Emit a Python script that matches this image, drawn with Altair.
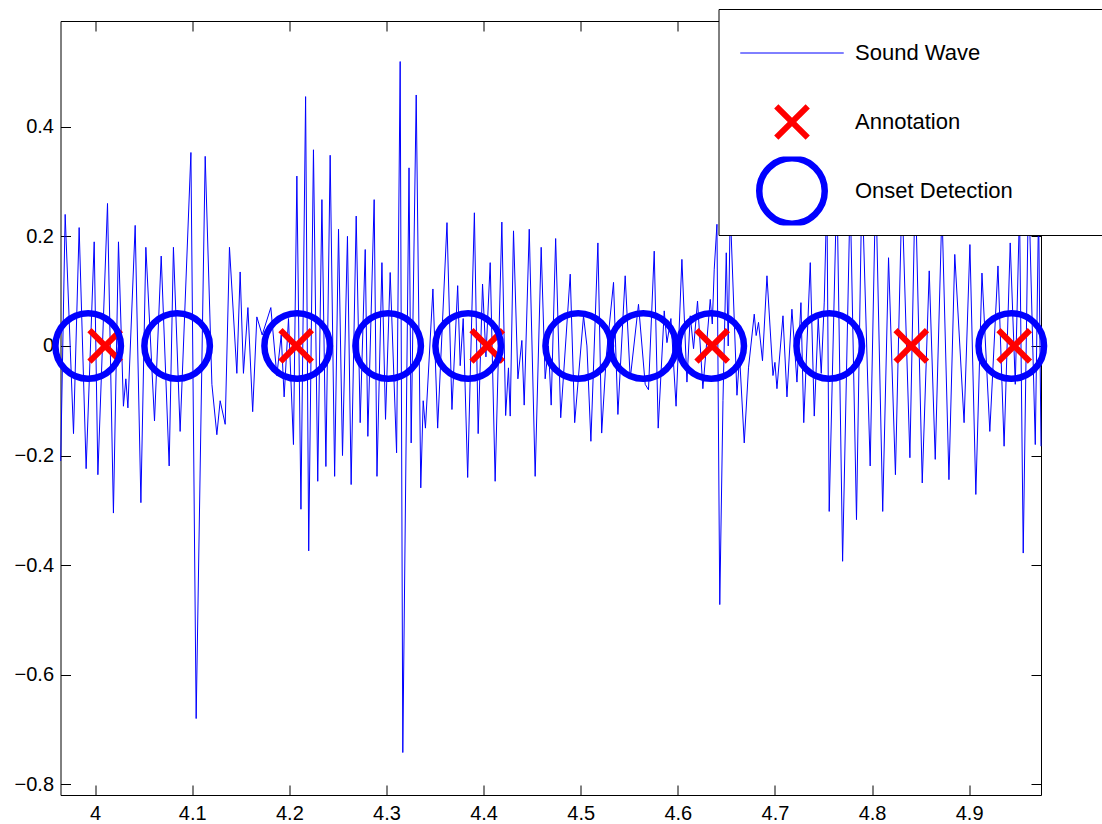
import altair as alt
import pandas as pd

# ---- waveform (time in s, amplitude) ----
wave_t = [
    3.9645, 3.9691, 3.9777, 3.9835, 3.9907, 3.9990, 4.0028, 4.0127, 4.0188, 4.0240,
    4.0291, 4.0316, 4.0337, 4.0412, 4.0471, 4.0522, 4.0611, 4.0680, 4.0762, 4.0806,
    4.0875, 4.0986, 4.1040, 4.1133, 4.1202, 4.1253, 4.1287, 4.1339, 4.1383, 4.1459,
    4.1493, 4.1527, 4.1573, 4.1622,
    4.1665, 4.1720, 4.1809, 4.1871, 4.1916, 4.1946, 4.1991, 4.2042, 4.2077, 4.2119,
    4.2167, 4.2199, 4.2248, 4.2292, 4.2335, 4.2376, 4.2420, 4.2466, 4.2506, 4.2547,
    4.2598, 4.2636, 4.2688, 4.2729, 4.2781, 4.2808, 4.2873, 4.2902, 4.2953, 4.2990,
    4.3038, 4.3104, 4.3141, 4.3168, 4.3232, 4.3254, 4.3306, 4.3353, 4.3378, 4.3401,
    4.3478, 4.3527, 4.3623,
    4.3674, 4.3733, 4.3759, 4.3790, 4.3836, 4.3905, 4.3944, 4.3989, 4.4024, 4.4068,
    4.4119, 4.4188, 4.4227, 4.4256, 4.4274, 4.4308, 4.4353, 4.4394, 4.4418, 4.4470,
    4.4531, 4.4593, 4.4634, 4.4668, 4.4696, 4.4742, 4.4794, 4.4892, 4.4938, 4.5029,
    4.5064, 4.5105, 4.5177, 4.5216, 4.5263, 4.5338, 4.5383, 4.5458, 4.5510, 4.5595,
    4.5664,
    4.5698, 4.5757, 4.5798, 4.5860, 4.5888, 4.5929, 4.5982, 4.6042, 4.6094, 4.6128,
    4.6162, 4.6203, 4.6258, 4.6334, 4.6355, 4.6375, 4.6403, 4.6432, 4.6465, 4.6499,
    4.6519, 4.6540, 4.6609, 4.6636, 4.6684, 4.6728, 4.6787, 4.6807, 4.6831, 4.6872,
    4.6918, 4.6980, 4.7000, 4.7021, 4.7083, 4.7124, 4.7175, 4.7227, 4.7268, 4.7297,
    4.7364, 4.7405, 4.7446, 4.7477, 4.7508, 4.7535, 4.7559,
    4.7638, 4.7697, 4.7775, 4.7840, 4.7896, 4.7981, 4.8038, 4.8110, 4.8170, 4.8241,
    4.8308, 4.8390, 4.8445, 4.8517, 4.8589, 4.8651, 4.8720, 4.8792, 4.8852, 4.8948,
    4.9008, 4.9069, 4.9132, 4.9213, 4.9297, 4.9360, 4.9423, 4.9475, 4.9519, 4.9557,
    4.9612, 4.9681, 4.9715, 4.9740,
]
wave_a = [
    -0.21, 0.24, -0.16, 0.216, -0.224, 0.19, -0.235, 0.26, -0.305, 0.19,
    -0.11, -0.06, -0.113, 0.22, -0.286, 0.18, -0.137, 0.164, -0.219, 0.18,
    -0.156, 0.353, -0.68, 0.346, -0.07, -0.162, -0.10, -0.143, 0.18, -0.05,
    0.135, -0.05, 0.07, -0.12,
    0.053, 0.02, 0.07, -0.054, 0.02, -0.093, 0.05, -0.18, 0.31, -0.298,
    0.455, -0.374, 0.358, -0.247, 0.267, -0.22, 0.348, -0.238, 0.213, -0.20,
    0.20, -0.253, 0.237, -0.14, 0.176, -0.165, 0.267, -0.238, 0.152, -0.134,
    0.134, -0.195, 0.519, -0.742, 0.325, -0.177, 0.458, -0.259, -0.10, -0.15,
    0.104, -0.15, 0.225,
    -0.116, 0.11, -0.036, 0.05, -0.24, 0.243, -0.16, 0.113, -0.02, 0.152,
    -0.247, 0.226, -0.127, -0.04, -0.128, 0.21, -0.06, 0.01, -0.108, 0.213,
    -0.238, 0.18, -0.06, 0.0, -0.108, 0.196, -0.131, 0.131, -0.14, 0.055,
    0.0, -0.174, 0.188, -0.159, -0.02, 0.116, -0.125, 0.128, -0.06, 0.076,
    -0.07,
    -0.08, 0.173, -0.15, 0.064, 0.006, 0.05, -0.11, 0.158, -0.066, 0.055,
    -0.005, 0.082, -0.078, 0.085, 0.04, 0.14, 0.222, -0.472, -0.10, 0.17,
    0.0, 0.25, -0.09, -0.018, -0.177, -0.04, 0.058, 0.019, 0.043, -0.027,
    0.128, -0.054, -0.03, -0.078, 0.055, -0.093, 0.067, -0.066, 0.079, -0.14,
    0.152, -0.128, 0.05, -0.05, 0.08, 0.28, -0.302,
    0.30, -0.393, 0.28, -0.317, 0.30, -0.219, 0.30, -0.302, 0.161, -0.235,
    0.28, -0.204, 0.30, -0.25, 0.137, -0.207, 0.25, -0.244, 0.167, -0.14,
    0.185, -0.271, 0.133, -0.156, 0.146, -0.183, 0.188, -0.07, 0.25, -0.378,
    0.30, -0.18, 0.25, -0.183,
]

annot_t = [4.0103, 4.2070, 4.4037, 4.6354, 4.8404, 4.9464]
onset_t = [3.9928, 4.0844, 4.2080, 4.3017, 4.3841, 4.4974, 4.5644, 4.6344, 4.7559, 4.9434]

series_names = ["Sound Wave", "Annotation", "Onset Detection"]
series_colors = ["#0000ff", "#ff0000", "#0000ff"]
series_shapes = ["M-1.58,0L1.58,0", "M-0.48,-0.48L0.48,0.48M0.48,-0.48L-0.48,0.48", "circle"]
series_widths = [1, 6, 6.5]
x_ticks = [4.0, 4.1, 4.2, 4.3, 4.4, 4.5, 4.6, 4.7, 4.8, 4.9]
y_ticks = [-0.8, -0.6, -0.4, -0.2, 0.0, 0.2, 0.4]

wave_df = pd.DataFrame({"t": wave_t, "a": wave_a, "series": "Sound Wave",
                        "k": list(range(len(wave_t)))})
annot_df = pd.DataFrame({"t": annot_t, "a": [0.0] * len(annot_t), "series": "Annotation"})
onset_df = pd.DataFrame({"t": onset_t, "a": [0.0] * len(onset_t), "series": "Onset Detection"})

FONT = "Liberation Sans"
MARK_SIZE = 4290
xs = alt.Scale(domain=[3.9643, 4.9740], nice=False, zero=False)
ys = alt.Scale(domain=[-0.8195, 0.593], nice=False, zero=False)

leg = alt.Legend(
    title=" ", titleOrient="right", titleFontSize=12, titlePadding=110,
    orient="none", legendX=658, legendY=-12, direction="vertical",
    fillColor="white", strokeColor="black", padding=9.5, cornerRadius=0,
    labelFont=FONT, labelFontSize=22, labelColor="black", labelLimit=0,
    labelOffset=27, symbolOffset=28, rowPadding=0, clipHeight=69,
    symbolSize=MARK_SIZE, symbolOpacity=1,
)

color = alt.Color("series:N", scale=alt.Scale(domain=series_names, range=series_colors), legend=leg)
shape = alt.Shape("series:N", scale=alt.Scale(domain=series_names, range=series_shapes), legend=leg)
sw = alt.StrokeWidth("series:N", scale=alt.Scale(type="ordinal", domain=series_names,
                     range=series_widths), legend=leg)

tick_len = 10
base = dict(grid=False, title=None, domain=False, tickColor="black", tickWidth=1,
            labelFont=FONT, labelFontSize=20, labelColor="black", format="~g")

x_lab = alt.Axis(orient="bottom", values=x_ticks, ticks=False, tickSize=0, labelPadding=8.5, **base)
y_lab = alt.Axis(orient="left", values=y_ticks, ticks=False, tickSize=0, labelPadding=7, **base)
x_tin = alt.Axis(orient="bottom", values=x_ticks, labels=False, tickSize=tick_len,
                 offset=-tick_len, **base)
y_tin = alt.Axis(orient="left", values=y_ticks, labels=False, tickSize=tick_len,
                 offset=-tick_len, **base)
x_tin2 = alt.Axis(orient="top", values=x_ticks, labels=False, tickSize=tick_len,
                  offset=-tick_len, **base)
y_tin2 = alt.Axis(orient="right", values=y_ticks, labels=False, tickSize=tick_len,
                  offset=-tick_len, **base)

wave = alt.Chart(wave_df).mark_line(interpolate="linear").encode(
    x=alt.X("t:Q", scale=xs, axis=x_lab),
    y=alt.Y("a:Q", scale=ys, axis=y_lab),
    order="k:Q",
    color=color,
    strokeWidth=sw,
)

annot = alt.Chart(annot_df).mark_point(filled=False, opacity=1, size=MARK_SIZE).encode(
    x=alt.X("t:Q", scale=xs, axis=x_tin),
    y=alt.Y("a:Q", scale=ys, axis=y_tin),
    color=color, shape=shape, strokeWidth=sw,
)

onset = alt.Chart(onset_df).mark_point(filled=False, opacity=1, size=MARK_SIZE).encode(
    x=alt.X("t:Q", scale=xs, axis=x_tin2),
    y=alt.Y("a:Q", scale=ys, axis=y_tin2),
    color=color, shape=shape, strokeWidth=sw,
)

chart = alt.layer(wave, annot, onset).resolve_axis(
    x="independent", y="independent"
).properties(
    width=980.5, height=774,
    autosize=alt.AutoSizeParams(type="none"),
    padding={"left": 60.5, "top": 21, "right": 61, "bottom": 29},
    background="white",
).configure_view(stroke="black", strokeWidth=1)

chart.save("out.html", embed_options={"renderer": "svg", "actions": False})
